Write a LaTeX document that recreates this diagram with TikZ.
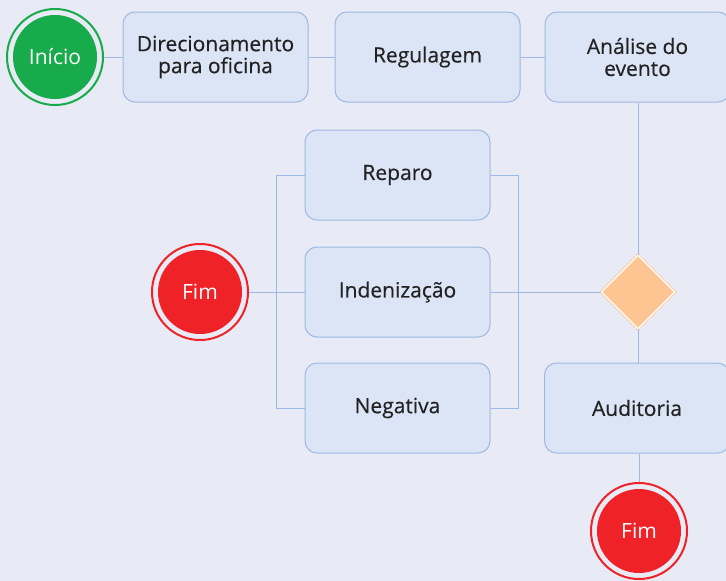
\documentclass[tikz,border=0pt]{standalone}
\usepackage{fontspec}
\setmainfont{Open Sans}
\newfontfamily\medfont{Open Sans}[FakeBold=0.4]
\usetikzlibrary{shapes.geometric}
\definecolor{bgcol}{HTML}{E8EBF5}
\definecolor{boxfill}{HTML}{DCE5F6}
\definecolor{boxline}{HTML}{9DB8E4}
\definecolor{linkcol}{HTML}{9BB8E6}
\definecolor{startgreen}{HTML}{18AB4B}
\definecolor{endred}{HTML}{EE2227}
\definecolor{gatefill}{HTML}{FDC592}
\definecolor{gateline}{HTML}{F9CBA2}
\definecolor{txt}{HTML}{222222}

\begin{document}
\begin{tikzpicture}[x=1pt, y=-1pt,
    stepbox/.style = {draw=boxline, fill=boxfill, line width=1pt, rounded corners=12pt,
                      minimum width=185pt, minimum height=90pt, align=center,
                      text=txt, font=\medfont\fontsize{21}{22}\selectfont},
    startev/.style = {circle, minimum size=96pt, draw=startgreen, line width=2pt, fill=bgcol,
                      text=white, font=\fontsize{21}{22}\selectfont,
                      path picture={\fill[startgreen] (path picture bounding box.center) circle (42pt);}},
    endev/.style   = {startev, draw=endred,
                      path picture={\fill[endred] (path picture bounding box.center) circle (42pt);}},
    gate/.style    = {diamond, minimum width=74pt, minimum height=74pt, fill=gatefill,
                      draw=gateline, double=white, double distance=1.2pt, line width=0.8pt},
    link/.style    = {draw=linkcol, line width=1pt}]

      \fill[bgcol] (0,0) rectangle (726,581);
      \useasboundingbox (0,0) rectangle (726,581);

      % top row
      \node[startev] (inicio) at (55,57) {Início};
      \node[stepbox] (direc) at (215.5,57) {Direcionamento\\para oficina};
      \node[stepbox] (regul) at (427.5,57) {Regulagem};
      \node[stepbox] (analise) at (637.5,57) {Análise do\\evento};

      % decision and outcomes
      \node[gate] (decisao) at (638,292) {};
      \node[stepbox] (reparo) at (397.5,175) {Reparo};
      \node[stepbox] (indeniz) at (397.5,292) {Indenização};
      \node[stepbox] (negativa) at (397.5,408) {Negativa};
      \node[endev] (fimA) at (200,292) {Fim};

      \node[stepbox] (audit) at (637,408) {Auditoria};
      \node[endev] (fimB) at (639,531) {Fim};

      % connectors
      \draw[link] (inicio) -- (direc);
      \draw[link] (direc) -- (regul);
      \draw[link] (regul) -- (analise);
      \draw[link] (analise.south -| decisao) -- (decisao.north);
      \draw[link] (decisao.south) -- (audit.north -| decisao);
      \draw[link] (audit.south -| fimB) -- (fimB);
      \draw[link] (indeniz) -- (decisao);
      \draw[link] (fimA) -- (indeniz);
      \draw[link] (reparo.west) -- ++(-28,0) |- (negativa.west);
      \draw[link] (reparo.east) -- ++(28,0) |- (negativa.east);
\end{tikzpicture}
\end{document}
